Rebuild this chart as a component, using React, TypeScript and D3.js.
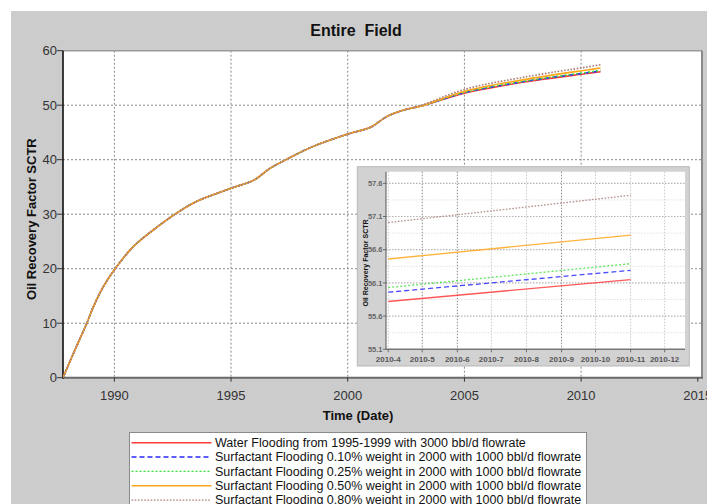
import React from "react";
import * as d3 from "d3";

const W = 707;
const H = 504;

// ---------- data ----------
const historyDates = [
  "1987-10-20", "1988-04-20", "1988-10-27", "1989-02-06", "1989-07-12", "1990-01-01",
  "1990-10-20", "1991-09-01", "1992-09-01", "1993-07-01", "1995-01-01", "1996-01-01",
  "1996-09-01", "1997-05-26", "1998-07-01", "2000-01-01", "2001-01-01", "2001-09-01",
  "2002-05-26", "2003-03-15",
];
const historyValues = [
  0, 5.0, 10.0, 13.0, 16.7, 19.8, 24.0, 27.1, 30.2, 32.3, 34.75, 36.3, 38.4, 40.1, 42.4,
  44.7, 46.0, 47.9, 49.1, 49.9,
];
const forecastDates = ["2005-01-01", "2007-07-01", "2010-04-01", "2010-11-01"];
const waterFlooding = [52.2, 54.2, 55.82, 56.15];
const surfactant010 = [52.3, 54.3, 55.96, 56.29];
const surfactant025 = [52.35, 54.35, 56.03, 56.39];
const surfactant050 = [52.55, 54.65, 56.46, 56.82];
const surfactant080 = [52.9, 55.1, 57.01, 57.42];

const seriesNames = [
  "Water Flooding from 1995-1999 with 3000 bbl/d flowrate",
  "Surfactant Flooding 0.10% weight in 2000 with 1000 bbl/d flowrate",
  "Surfactant Flooding 0.25% weight in 2000 with 1000 bbl/d flowrate",
  "Surfactant Flooding 0.50% weight in 2000 with 1000 bbl/d flowrate",
  "Surfactant Flooding 0.80% weight in 2000 with 1000 bbl/d flowrate",
];
const seriesForecasts = [waterFlooding, surfactant010, surfactant025, surfactant050, surfactant080];
const seriesColors = ["#ff3b3b", "#2a2aff", "#3ee03e", "#ffa61a", "#a87d78"];
const seriesDash = [null, "5,3", "2,2", null, "1.6,1.6"];

const mainYTicks = [0, 10, 20, 30, 40, 50, 60];
const mainXTickYears = [1990, 1995, 2000, 2005, 2010, 2015];
const insetYTicks = [55.1, 55.6, 56.1, 56.6, 57.1, 57.6];
const insetXTickMonths = ["2010-04-01", "2010-05-01", "2010-06-01", "2010-07-01", "2010-08-01", "2010-09-01", "2010-10-01", "2010-11-01", "2010-12-01"];

const parse = d3.timeParse("%Y-%m-%d");
const FONT = "'Liberation Sans', Arial, Helvetica, sans-serif";

type Pt = { d: Date; v: number };

function buildSeries(): Pt[][] {
  return seriesForecasts.map((fc, si) => {
    const pts: Pt[] = historyDates.map((s, i) => ({ d: parse(s)!, v: historyValues[i] }));
    if (si === 4) pts[pts.length - 1] = { ...pts[pts.length - 1], v: historyValues[historyValues.length - 1] + 0.15 };
    forecastDates.forEach((s, i) => pts.push({ d: parse(s)!, v: fc[i] }));
    return pts;
  });
}

export default function App() {
  const series = buildSeries();

  // main plot geometry
  const pl = 63, pr = 702, pt = 50.7, pb = 377.7;
  const x = d3.scaleTime().domain([parse("1987-10-20")!, parse("2015-03-08")!]).range([pl, pr]);
  const y = d3.scaleLinear().domain([0, 60]).range([pb, pt]);
  const line = d3.line<Pt>().x((p) => x(p.d)).y((p) => y(p.v)).curve(d3.curveCatmullRom.alpha(0.5));

  // inset geometry
  const il = 386, ir = 685, it = 171.7, ib = 349.3;
  const ix = d3.scaleTime().domain([new Date(2010, 2, 30), new Date(2010, 11, 19)]).range([il, ir]);
  const iy = d3.scaleLinear().domain([55.1, 57.775]).range([ib, it]);
  const iline = d3.line<Pt>().x((p) => ix(p.d)).y((p) => iy(p.v));
  const insetStart = parse("2010-04-01")!;
  const insetMinor = insetYTicks.map((t) => t + 0.25).filter((t) => t < 57.775);
  const insetMonthDates = insetXTickMonths.map((s) => parse(s)!);
  const fmtMonth = d3.timeFormat("%Y-%-m");

  const legendX = 129.5, legendY = 432.5, rowH = 14.35;

  return (
    <svg width={W} height={H} style={{ position: "absolute", left: 0, top: 0 }} fontFamily={FONT}>
      <defs>
        <clipPath id="mainClip">
          <rect x={pl} y={pt} width={pr - pl} height={pb - pt} />
        </clipPath>
        <clipPath id="insetClip">
          <rect x={il} y={it} width={ir - il} height={ib - it} />
        </clipPath>
      </defs>
      <rect x={0} y={0} width={W} height={H} fill="#ffffff" />
      <rect x={11} y={11} width={W - 11} height={H - 11} fill="#cccccc" />

      {/* title */}
      <text x={356} y={36} textAnchor="middle" fontSize={16} fontWeight="bold" fill="#111" style={{ whiteSpace: "pre" }}>
        {"Entire  Field"}
      </text>

      {/* plot area */}
      <rect x={pl} y={pt} width={pr - pl} height={pb - pt} fill="#ffffff" />

      {/* grid */}
      {mainXTickYears.filter((yr) => yr < 2015).map((yr) => (
        <line key={"gx" + yr} x1={x(new Date(yr, 0, 1))} x2={x(new Date(yr, 0, 1))} y1={pt} y2={pb}
          stroke="#8a8a8a" strokeWidth={1} strokeDasharray="2,2" />
      ))}
      {mainYTicks.filter((t) => t > 0 && t < 60).map((t) => (
        <line key={"gy" + t} x1={pl} x2={pr} y1={y(t)} y2={y(t)} stroke="#8a8a8a" strokeWidth={1} strokeDasharray="2,2" />
      ))}

      {/* borders */}
      <line x1={pl} x2={pr} y1={pt} y2={pt} stroke="#9a9a9a" strokeWidth={1.5} />
      <line x1={pr} x2={pr} y1={pt} y2={pb} stroke="#8a8a8a" strokeWidth={2} />
      <line x1={pl} x2={pr + 1} y1={pb} y2={pb} stroke="#6a6a6a" strokeWidth={2} />
      <line x1={pl} x2={pl} y1={pt} y2={pb + 1} stroke="#000" strokeWidth={1.5} />

      {/* y ticks */}
      {mainYTicks.map((t) => (
        <g key={"yt" + t}>
          <line x1={pl - 6} x2={pl} y1={y(t)} y2={y(t)} stroke="#333" strokeWidth={1} />
          <text x={pl - 6} y={y(t) + 4.7} textAnchor="end" fontSize={13} fill="#333">{t}</text>
        </g>
      ))}
      {/* x ticks */}
      {mainXTickYears.map((yr) => (
        <g key={"xt" + yr}>
          <line x1={x(new Date(yr, 0, 1))} x2={x(new Date(yr, 0, 1))} y1={pb} y2={pb + 4} stroke="#333" strokeWidth={1} />
          <text x={x(new Date(yr, 0, 1))} y={399.5} textAnchor="middle" fontSize={13} fill="#333">{yr}</text>
        </g>
      ))}

      {/* axis titles */}
      <text x={358} y={420} textAnchor="middle" fontSize={13} fontWeight="bold" fill="#111">Time (Date)</text>
      <text transform={`translate(35.5,${(pt + pb) / 2 + 5}) rotate(-90)`} textAnchor="middle" fontSize={13} fontWeight="bold" fill="#111">
        Oil Recovery Factor SCTR
      </text>

      {/* main lines */}
      <g clipPath="url(#mainClip)">
        {series.map((pts, i) => (
          <path key={"ml" + i} d={line(pts) || ""} fill="none" stroke={seriesColors[i]} strokeWidth={1.6}
            strokeDasharray={seriesDash[i] || undefined} />
        ))}
      </g>

      {/* inset */}
      <rect x={357.3} y={166.7} width={332} height={199.3} fill="#d2d2d2" stroke="#b8b8b8" strokeWidth={1} />
      <rect x={il} y={it} width={ir - il} height={ib - it} fill="#ffffff" />
      {insetMinor.map((t) => (
        <line key={"imy" + t} x1={il} x2={ir} y1={iy(t)} y2={iy(t)} stroke="#e2e2e2" strokeWidth={1} strokeDasharray="1.5,1.5" />
      ))}
      {insetMonthDates.map((d, i) => (
        <line key={"igx" + i} x1={ix(d)} x2={ix(d)} y1={it} y2={ib} stroke={i === 1 || i === 2 || i === 5 ? "#8a8a8a" : "#c8c8c8"}
          strokeWidth={1} strokeDasharray="1.5,1.5" />
      ))}
      {insetYTicks.filter((t) => t > 55.1).map((t) => (
        <line key={"igy" + t} x1={il} x2={ir} y1={iy(t)} y2={iy(t)} stroke="#b4b4b4" strokeWidth={1.2} strokeDasharray="1.5,1.5" />
      ))}
      <line x1={il} x2={ir} y1={ib} y2={ib} stroke="#777" strokeWidth={1.5} />
      <line x1={il} x2={il} y1={it} y2={ib} stroke="#555" strokeWidth={1} />
      {insetYTicks.map((t) => (
        <g key={"iyt" + t}>
          <line x1={il - 3} x2={il} y1={iy(t)} y2={iy(t)} stroke="#555" strokeWidth={0.8} />
          <text x={il - 3.5} y={iy(t) + 2.6} textAnchor="end" fontSize={7.5} fontWeight="bold" fill="#666">{t.toFixed(1)}</text>
        </g>
      ))}
      {insetMonthDates.map((d, i) => (
        <g key={"ixt" + i}>
          <line x1={ix(d)} x2={ix(d)} y1={ib} y2={ib + 3} stroke="#555" strokeWidth={0.8} />
          <text x={ix(d)} y={362} textAnchor="middle" fontSize={8} fontWeight="bold" fill="#555">{fmtMonth(d)}</text>
        </g>
      ))}
      <text transform={`translate(367.5,263) rotate(-90)`} textAnchor="middle" fontSize={7} fontWeight="bold" fill="#111">
        Oil Recovery Factor SCTR
      </text>
      <g clipPath="url(#insetClip)">
        {series.map((pts, i) => (
          <path key={"il" + i} d={iline(pts.filter((p) => p.d >= insetStart)) || ""} fill="none" stroke={seriesColors[i]}
            strokeWidth={1.3} strokeOpacity={0.85} strokeDasharray={seriesDash[i] || undefined} />
        ))}
      </g>

      {/* legend */}
      <rect x={legendX} y={legendY} width={457} height={90} fill="#ffffff" stroke="#8a8a8a" strokeWidth={1} />
      {seriesNames.map((name, i) => {
        const ly = 442.7 + i * rowH;
        return (
          <g key={"lg" + i}>
            <line x1={131.5} x2={211.5} y1={ly} y2={ly} stroke={seriesColors[i]} strokeWidth={1.4}
              strokeDasharray={seriesDash[i] || undefined} />
            <text x={215} y={ly + 4.3} fontSize={12.5} fill="#111">{name}</text>
          </g>
        );
      })}
    </svg>
  );
}
